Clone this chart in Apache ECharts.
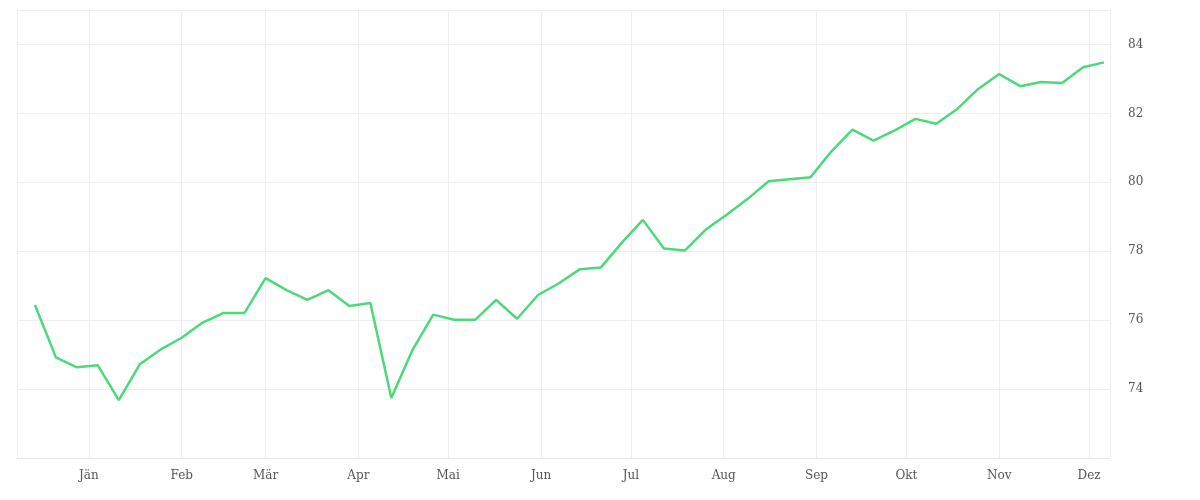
<!DOCTYPE html>
<html><head><meta charset="utf-8">
<script src="https://cdn.jsdelivr.net/npm/echarts@6/dist/echarts.min.js"></script>
<style>html,body{margin:0;padding:0;background:#fff}#c{width:1200px;height:500px}</style>
</head><body><div id="c"></div>
<script>
const startDate = '2020-12-14';
const values = [76.44,74.92,74.63,74.69,73.68,74.72,75.15,75.49,75.93,76.21,76.21,77.22,76.87,76.59,76.87,76.41,76.5,73.74,75.12,76.16,76.01,76.01,76.59,76.04,76.73,77.07,77.48,77.53,78.25,78.91,78.08,78.02,78.63,79.06,79.52,80.03,80.09,80.15,80.9,81.53,81.21,81.5,81.84,81.7,82.13,82.71,83.14,82.79,82.91,82.88,83.34,83.48];
const monthLabels = ['Jän','Feb','Mär','Apr','Mai','Jun','Jul','Aug','Sep','Okt','Nov','Dez'];
const yTicks = [74,76,78,80,82,84];

const t0 = new Date(startDate + 'T00:00:00Z').getTime();
const day = 86400000;
const data = values.map((v,i)=>[t0 + i*7*day, v]);

const chart = echarts.init(document.getElementById('c'));
chart.setOption({
  animation:false,
  grid:{left:17,right:90,top:10,bottom:42},
  xAxis:{
    type:'time',
    min: Date.UTC(2020,11,8), max: Date.UTC(2021,11,8),
    minInterval: 28*day, maxInterval: 31*day,
    axisLine:{show:true,lineStyle:{color:'#e6e6e6'}},
    axisTick:{show:false},
    splitLine:{show:true,lineStyle:{color:'#eeeeee'}},
    axisLabel:{color:'#555',fontFamily:'DejaVu Serif',fontSize:12,margin:12,
      formatter:(v)=>{const d=new Date(v);return d.getUTCDate()===1?monthLabels[d.getUTCMonth()]:'';}}
  },
  yAxis:{
    type:'value',position:'right',min:72,max:85,interval:2,
    axisLine:{show:false},axisTick:{show:false},
    splitLine:{lineStyle:{color:'#eeeeee'}},
    axisLabel:{color:'#555',fontFamily:'DejaVu Serif',fontSize:12,margin:18,
      formatter:(v)=>yTicks.includes(v)?String(v):''}
  },
  series:[{type:'line',data:data,showSymbol:false,lineStyle:{color:'#4cd97b',width:2.5},itemStyle:{color:'#4cd97b'}}]
});
</script></body></html>
